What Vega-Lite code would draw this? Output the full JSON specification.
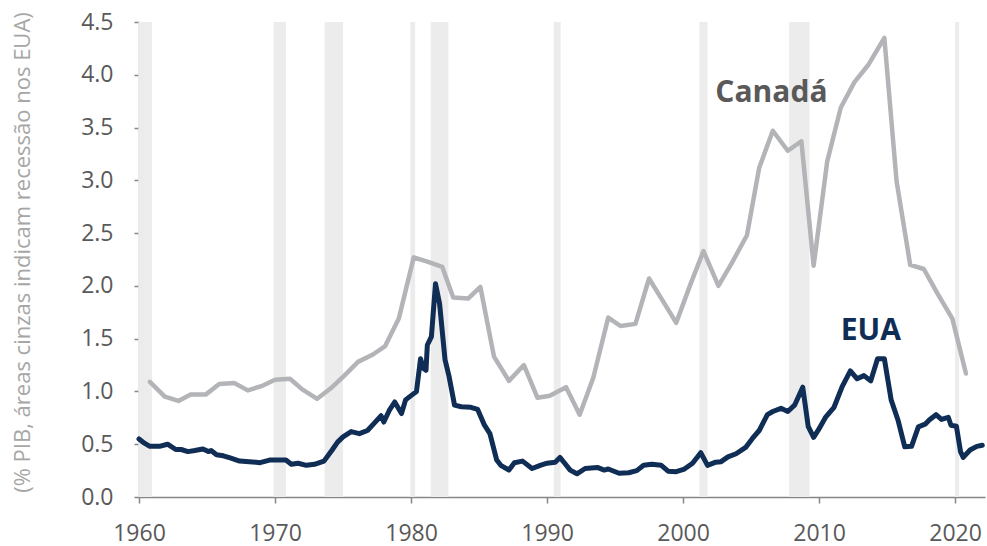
{
  "$schema": "https://vega.github.io/schema/vega-lite/v6.json",
  "width": 846,
  "height": 475,
  "autosize": {"type": "none"},
  "padding": {"left": 139, "top": 22, "right": 2, "bottom": 49},
  "background": "white",
  "config": {
    "view": {"stroke": null},
    "font": "Open Sans",
    "axis": {"grid": false}
  },
  "datasets": {
    "recessions": [
      {"start": 1959.95, "end": 1960.95},
      {"start": 1969.9, "end": 1970.8},
      {"start": 1973.65, "end": 1975.0},
      {"start": 1979.95, "end": 1980.3},
      {"start": 1981.45, "end": 1982.75},
      {"start": 1990.5, "end": 1991.0},
      {"start": 2001.2, "end": 2001.8},
      {"start": 2007.8, "end": 2009.3},
      {"start": 2020.0, "end": 2020.3}
    ],
    "canada": [
      {"year": 1960.8, "value": 1.09}, {"year": 1961.9, "value": 0.95}, {"year": 1962.9, "value": 0.91},
      {"year": 1963.8, "value": 0.97}, {"year": 1964.9, "value": 0.97}, {"year": 1965.9, "value": 1.07},
      {"year": 1967.0, "value": 1.08}, {"year": 1968.0, "value": 1.01}, {"year": 1969.0, "value": 1.05},
      {"year": 1970.0, "value": 1.11}, {"year": 1971.1, "value": 1.12}, {"year": 1972.0, "value": 1.02},
      {"year": 1973.1, "value": 0.93}, {"year": 1974.1, "value": 1.03}, {"year": 1975.1, "value": 1.15},
      {"year": 1976.1, "value": 1.28}, {"year": 1977.2, "value": 1.35}, {"year": 1978.1, "value": 1.43},
      {"year": 1979.1, "value": 1.69}, {"year": 1980.2, "value": 2.27}, {"year": 1981.2, "value": 2.23},
      {"year": 1982.3, "value": 2.18}, {"year": 1983.1, "value": 1.89}, {"year": 1984.2, "value": 1.88},
      {"year": 1985.1, "value": 1.99}, {"year": 1986.1, "value": 1.33}, {"year": 1987.2, "value": 1.10},
      {"year": 1988.3, "value": 1.25}, {"year": 1989.3, "value": 0.94}, {"year": 1990.2, "value": 0.96},
      {"year": 1991.4, "value": 1.04}, {"year": 1992.4, "value": 0.78}, {"year": 1993.4, "value": 1.13},
      {"year": 1994.5, "value": 1.70}, {"year": 1995.4, "value": 1.62}, {"year": 1996.5, "value": 1.64},
      {"year": 1997.5, "value": 2.07}, {"year": 1998.5, "value": 1.86}, {"year": 1999.5, "value": 1.65},
      {"year": 2000.5, "value": 2.00}, {"year": 2001.5, "value": 2.33}, {"year": 2002.6, "value": 2.00},
      {"year": 2003.6, "value": 2.22}, {"year": 2004.7, "value": 2.48}, {"year": 2005.6, "value": 3.12},
      {"year": 2006.6, "value": 3.47}, {"year": 2007.7, "value": 3.28}, {"year": 2008.7, "value": 3.37},
      {"year": 2009.6, "value": 2.19}, {"year": 2010.6, "value": 3.18}, {"year": 2011.6, "value": 3.69},
      {"year": 2012.6, "value": 3.93}, {"year": 2013.6, "value": 4.09}, {"year": 2014.8, "value": 4.35},
      {"year": 2015.7, "value": 2.99}, {"year": 2016.7, "value": 2.20}, {"year": 2017.7, "value": 2.16},
      {"year": 2018.7, "value": 1.93}, {"year": 2019.8, "value": 1.69}, {"year": 2020.8, "value": 1.17}
    ],
    "usa": [
      {"year": 1960.0, "value": 0.55}, {"year": 1960.4, "value": 0.51}, {"year": 1960.8, "value": 0.48},
      {"year": 1961.5, "value": 0.48}, {"year": 1962.1, "value": 0.50}, {"year": 1962.7, "value": 0.45},
      {"year": 1963.1, "value": 0.45}, {"year": 1963.6, "value": 0.43}, {"year": 1964.1, "value": 0.44},
      {"year": 1964.7, "value": 0.455}, {"year": 1965.1, "value": 0.43}, {"year": 1965.3, "value": 0.44},
      {"year": 1965.7, "value": 0.40}, {"year": 1966.2, "value": 0.39}, {"year": 1966.7, "value": 0.37},
      {"year": 1967.4, "value": 0.34}, {"year": 1968.1, "value": 0.335}, {"year": 1968.9, "value": 0.325},
      {"year": 1969.6, "value": 0.35}, {"year": 1970.3, "value": 0.35}, {"year": 1970.8, "value": 0.35},
      {"year": 1971.2, "value": 0.31}, {"year": 1971.7, "value": 0.32}, {"year": 1972.3, "value": 0.30},
      {"year": 1972.9, "value": 0.31}, {"year": 1973.6, "value": 0.34}, {"year": 1974.2, "value": 0.445},
      {"year": 1974.6, "value": 0.52}, {"year": 1975.0, "value": 0.57}, {"year": 1975.6, "value": 0.62},
      {"year": 1976.2, "value": 0.60}, {"year": 1976.8, "value": 0.63}, {"year": 1977.3, "value": 0.70},
      {"year": 1977.8, "value": 0.77}, {"year": 1978.0, "value": 0.71}, {"year": 1978.4, "value": 0.82},
      {"year": 1978.8, "value": 0.90}, {"year": 1979.3, "value": 0.79}, {"year": 1979.6, "value": 0.92},
      {"year": 1980.1, "value": 0.97}, {"year": 1980.4, "value": 1.00}, {"year": 1980.7, "value": 1.31},
      {"year": 1980.9, "value": 1.22}, {"year": 1981.1, "value": 1.20}, {"year": 1981.2, "value": 1.44},
      {"year": 1981.5, "value": 1.52}, {"year": 1981.8, "value": 2.02}, {"year": 1982.1, "value": 1.83},
      {"year": 1982.5, "value": 1.30}, {"year": 1982.8, "value": 1.14}, {"year": 1983.2, "value": 0.87},
      {"year": 1983.7, "value": 0.855}, {"year": 1984.4, "value": 0.85}, {"year": 1984.9, "value": 0.83},
      {"year": 1985.4, "value": 0.68}, {"year": 1985.8, "value": 0.60}, {"year": 1986.3, "value": 0.35},
      {"year": 1986.6, "value": 0.30}, {"year": 1987.2, "value": 0.255}, {"year": 1987.6, "value": 0.325},
      {"year": 1988.2, "value": 0.34}, {"year": 1988.9, "value": 0.27}, {"year": 1989.5, "value": 0.30},
      {"year": 1990.0, "value": 0.32}, {"year": 1990.6, "value": 0.33}, {"year": 1990.95, "value": 0.375},
      {"year": 1991.3, "value": 0.32}, {"year": 1991.7, "value": 0.255}, {"year": 1992.2, "value": 0.22},
      {"year": 1992.8, "value": 0.27}, {"year": 1993.7, "value": 0.28}, {"year": 1994.2, "value": 0.255},
      {"year": 1994.5, "value": 0.265}, {"year": 1995.3, "value": 0.225}, {"year": 1996.0, "value": 0.23},
      {"year": 1996.6, "value": 0.25}, {"year": 1997.1, "value": 0.30}, {"year": 1997.7, "value": 0.31},
      {"year": 1998.4, "value": 0.30}, {"year": 1998.9, "value": 0.245}, {"year": 1999.5, "value": 0.24},
      {"year": 2000.1, "value": 0.265}, {"year": 2000.7, "value": 0.32}, {"year": 2001.3, "value": 0.42},
      {"year": 2001.8, "value": 0.30}, {"year": 2002.4, "value": 0.33}, {"year": 2002.8, "value": 0.335},
      {"year": 2003.3, "value": 0.38}, {"year": 2003.9, "value": 0.41}, {"year": 2004.6, "value": 0.47},
      {"year": 2005.1, "value": 0.555}, {"year": 2005.6, "value": 0.63}, {"year": 2006.2, "value": 0.78},
      {"year": 2006.6, "value": 0.81}, {"year": 2007.2, "value": 0.84}, {"year": 2007.7, "value": 0.81},
      {"year": 2008.2, "value": 0.87}, {"year": 2008.8, "value": 1.04}, {"year": 2009.2, "value": 0.67},
      {"year": 2009.6, "value": 0.565}, {"year": 2009.95, "value": 0.635}, {"year": 2010.5, "value": 0.76},
      {"year": 2011.1, "value": 0.85}, {"year": 2011.7, "value": 1.045}, {"year": 2012.3, "value": 1.195},
      {"year": 2012.8, "value": 1.12}, {"year": 2013.3, "value": 1.15}, {"year": 2013.8, "value": 1.10},
      {"year": 2014.3, "value": 1.31}, {"year": 2014.8, "value": 1.31}, {"year": 2015.3, "value": 0.92},
      {"year": 2015.8, "value": 0.73}, {"year": 2016.3, "value": 0.475}, {"year": 2016.8, "value": 0.48},
      {"year": 2017.3, "value": 0.665}, {"year": 2017.8, "value": 0.69}, {"year": 2018.1, "value": 0.73},
      {"year": 2018.6, "value": 0.78}, {"year": 2019.0, "value": 0.735}, {"year": 2019.5, "value": 0.755},
      {"year": 2019.7, "value": 0.68}, {"year": 2020.1, "value": 0.67}, {"year": 2020.4, "value": 0.43},
      {"year": 2020.6, "value": 0.375}, {"year": 2021.1, "value": 0.445}, {"year": 2021.6, "value": 0.48},
      {"year": 2022.0, "value": 0.49}
    ],
    "labels": [
      {"label": "Canadá", "year": 2006.5, "value": 3.83, "series": "Canadá"},
      {"label": "EUA", "year": 2013.8, "value": 1.57, "series": "EUA"}
    ]
  },
  "layer": [
    {
      "data": {"name": "recessions"},
      "mark": {"type": "rect", "color": "#ececec"},
      "encoding": {
        "x": {
          "field": "start", "type": "quantitative",
          "scale": {"domain": [1960, 2022.2], "nice": false, "zero": false},
          "axis": {
            "values": [1960, 1970, 1980, 1990, 2000, 2010, 2020],
            "format": "d", "title": null,
            "domainColor": "#868686", "domainWidth": 1.5,
            "tickColor": "#868686", "tickWidth": 1.5, "tickSize": 6,
            "labelColor": "#595959", "labelFont": "Open Sans", "labelFontSize": 23,
            "labelPadding": 19, "labelFlush": false
          }
        },
        "x2": {"field": "end"},
        "y": {"datum": 0, "type": "quantitative"},
        "y2": {"datum": 4.5}
      }
    },
    {
      "data": {"name": "canada"},
      "mark": {"type": "line", "color": "#b3b4b7", "strokeWidth": 4.5, "strokeJoin": "round", "strokeCap": "round"},
      "encoding": {
        "x": {"field": "year", "type": "quantitative"},
        "y": {
          "field": "value", "type": "quantitative",
          "scale": {"domain": [0, 4.5], "nice": false},
          "axis": {
            "values": [0, 0.5, 1, 1.5, 2, 2.5, 3, 3.5, 4, 4.5],
            "format": ".1f",
            "title": "(% PIB, áreas cinzas indicam recessão nos EUA)",
            "titleColor": "#a6a6a6", "titleFont": "Open Sans", "titleFontSize": 22, "titleFontWeight": "normal",
            "titleX": -117, "titleY": 230, "titleAlign": "center", "titleBaseline": "middle", "titleAngle": -90,
            "domainColor": "#868686", "domainWidth": 1.5,
            "tickColor": "#868686", "tickWidth": 1.5, "tickSize": 5,
            "labelColor": "#595959", "labelFont": "Open Sans", "labelFontSize": 23,
            "labelPadding": 21
          }
        }
      }
    },
    {
      "data": {"name": "usa"},
      "mark": {"type": "line", "color": "#0f2d55", "strokeWidth": 5, "strokeJoin": "round", "strokeCap": "round"},
      "encoding": {
        "x": {"field": "year", "type": "quantitative"},
        "y": {"field": "value", "type": "quantitative"}
      }
    },
    {
      "data": {"name": "labels"},
      "mark": {"type": "text", "font": "Open Sans", "fontWeight": "bold", "fontSize": 30, "align": "center", "baseline": "middle"},
      "encoding": {
        "x": {"field": "year", "type": "quantitative"},
        "y": {"field": "value", "type": "quantitative"},
        "text": {"field": "label"},
        "color": {
          "field": "series", "type": "nominal",
          "scale": {"domain": ["Canadá", "EUA"], "range": ["#595959", "#0f2d55"]},
          "legend": null
        }
      }
    }
  ]
}
